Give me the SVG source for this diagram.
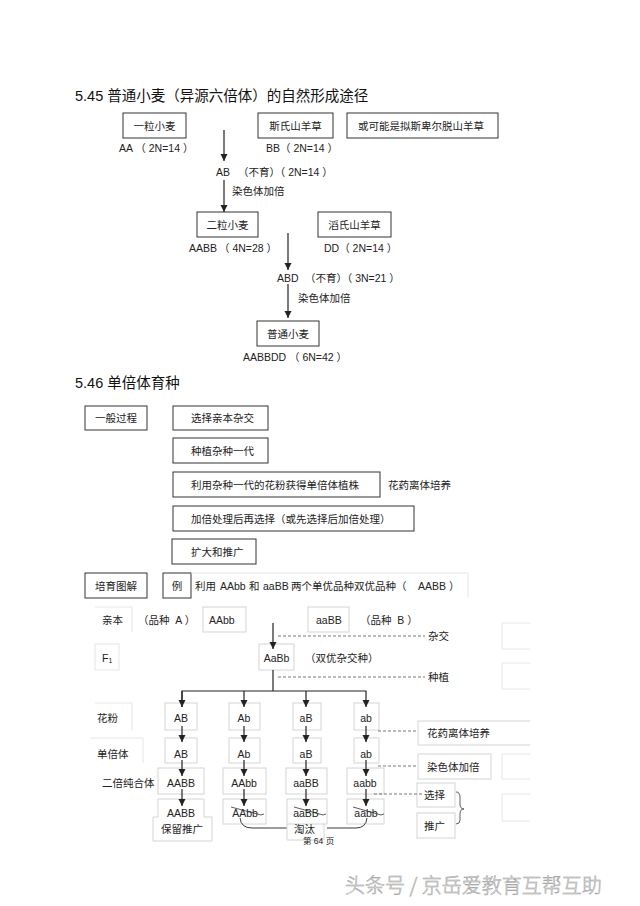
<svg xmlns="http://www.w3.org/2000/svg" width="640" height="906" viewBox="0 0 640 906">
<style>
.t{font-family:"Liberation Sans","Noto Sans CJK SC",sans-serif;font-size:10.5px;fill:#222;dominant-baseline:central;white-space:pre}
.m{text-anchor:middle}
.h{font-family:"Liberation Sans","Noto Sans CJK SC",sans-serif;font-size:14.5px;fill:#111;dominant-baseline:central}
.box{fill:none;stroke:#333;stroke-width:1}
.cell{fill:none;stroke:#d4d4d4;stroke-width:1}
.ghost{fill:none;stroke:#e6e6e6;stroke-width:1}
.ln{stroke:#222;stroke-width:1.2;fill:none}
.dash{stroke:#555;stroke-width:0.8;stroke-dasharray:3 2;fill:none}
.strike{stroke:#333;stroke-width:0.8;fill:none}
</style>
<defs>
<marker id="ah" markerUnits="userSpaceOnUse" markerWidth="8" markerHeight="8" refX="7" refY="3.5" orient="auto">
<path d="M0,0 L7,3.5 L0,7 z" fill="#222"/>
</marker>
</defs>
<rect width="640" height="906" fill="#fff"/>

<!-- Section 5.45 -->
<text class="h" x="75" y="96">5.45 普通小麦（异源六倍体）的自然形成途径</text>

<g id="n-yili"><rect class="box" x="123" y="113" width="63" height="25"/><text class="t m" x="154.5" y="125.5">一粒小麦</text><text class="t" x="119" y="148">AA （ 2N=14 ）</text></g>
<g id="n-sishi"><rect class="box" x="258" y="113" width="75" height="25"/><text class="t m" x="295.5" y="125.5">斯氏山羊草</text><text class="t" x="266" y="148">BB（ 2N=14 ）</text></g>
<g id="n-huo"><rect class="box" x="347" y="113" width="151" height="25"/><text class="t m" x="421" y="125.5">或可能是拟斯卑尔脱山羊草</text></g>
<g id="n-ab"><text class="t" x="216" y="172">AB</text><text class="t" x="238" y="172">（不育）（ 2N=14 ）</text><text class="t" x="232" y="191">染色体加倍</text></g>
<g id="n-erli"><rect class="box" x="197" y="212" width="61" height="25"/><text class="t m" x="227.5" y="224.5">二粒小麦</text><text class="t" x="189" y="248">AABB</text><text class="t" x="219" y="248">（ 4N=28 ）</text></g>
<g id="n-taoshi"><rect class="box" x="318" y="212" width="73" height="25"/><text class="t m" x="354.5" y="224.5">滔氏山羊草</text><text class="t" x="324" y="248">DD（ 2N=14 ）</text></g>
<g id="n-abd"><text class="t" x="277" y="278">ABD</text><text class="t" x="305" y="278">（不育）（ 3N=21 ）</text><text class="t" x="298" y="298">染色体加倍</text></g>
<g id="n-putong"><rect class="box" x="257" y="321" width="62" height="25"/><text class="t m" x="288" y="333.5">普通小麦</text><text class="t" x="243" y="357">AABBDD</text><text class="t" x="289" y="357">（ 6N=42 ）</text></g>

<!-- Section 5.46 -->
<text class="h" x="75" y="383">5.46 单倍体育种</text>
<g id="n-yiban"><rect class="box" x="85" y="406" width="62" height="24"/><text class="t m" x="116" y="418">一般过程</text></g>
<g id="n-s1"><rect class="box" x="173" y="406" width="95" height="24"/><text class="t" x="191" y="418">选择亲本杂交</text></g>
<g id="n-s2"><rect class="box" x="173" y="438" width="95" height="25"/><text class="t" x="191" y="450.5">种植杂种一代</text></g>
<g id="n-s3"><rect class="box" x="173" y="472" width="207" height="25"/><text class="t" x="191" y="484.5">利用杂种一代的花粉获得单倍体植株</text><text class="t" x="388" y="485">花药离体培养</text></g>
<g id="n-s4"><rect class="box" x="173" y="506" width="241" height="25"/><text class="t" x="191" y="518.5">加倍处理后再选择（或先选择后加倍处理）</text></g>
<g id="n-s5"><rect class="box" x="172" y="539" width="84" height="25"/><text class="t" x="191" y="551.5">扩大和推广</text></g>

<!-- Breeding diagram -->
<g id="n-tujie"><rect class="box" x="85" y="573" width="62" height="25"/><text class="t m" x="116" y="585.5">培育图解</text></g>
<g id="n-li"><rect class="box" x="163" y="573" width="28" height="25"/><text class="t m" x="177" y="585.5">例</text></g>
<g id="n-liyong"><path class="ghost" d="M191,573 H468 V598"/><text class="t" y="586"><tspan x="195">利用</tspan><tspan x="220">AAbb</tspan><tspan x="249">和</tspan><tspan x="263">aaBB</tspan><tspan x="291">两个单优品种双优品种（</tspan><tspan x="418">AABB</tspan><tspan x="449">）</tspan></text></g>

<g id="n-qinben"><path class="ghost" d="M95,607 H132 V632"/><text class="t" x="102" y="620">亲本</text><text class="t" x="138" y="620">（品种  A ）</text></g>
<g id="n-aabb-p"><rect class="cell" x="203" y="607" width="43" height="25"/><text class="t" x="209" y="619.5">AAbb</text></g>
<g id="n-aabb-q"><rect class="cell" x="308" y="607" width="41" height="25"/><text class="t" x="316" y="619.5">aaBB</text><text class="t" x="360" y="619.5">（品种  B ）</text></g>
<g id="n-f1"><rect class="ghost" x="95" y="644" width="24" height="26"/><text class="t" x="102" y="658">F<tspan font-size="7" dy="2">1</tspan></text></g>
<g id="n-aabb-f1"><rect class="cell" x="259" y="644" width="35" height="26"/><text class="t m" x="276.5" y="658">AaBb</text><text class="t" x="305" y="658">（双优杂交种）</text></g>
<g id="n-zajiao"><text class="t" x="428" y="636">杂交</text></g>
<g id="n-zhongzhi"><text class="t" x="428" y="677">种植</text></g>
<g id="n-ghost-r"><path class="ghost" d="M530,623 H502 V649 H530"/><path class="ghost" d="M530,663 H502 V689 H530"/><path class="ghost" d="M530,754 H502 V779 H530"/><path class="ghost" d="M530,794 H502 V821 H530"/></g>

<g id="n-row-labels">
<path class="ghost" d="M95,703 H132 V730"/><text class="t" x="97" y="718">花粉</text>
<path class="ghost" d="M90,738 H143 V763"/><text class="t" x="97" y="754">单倍体</text>
<text class="t" x="102" y="783">二倍纯合体</text>
</g>
<g id="n-pollen">
<rect class="cell" x="165" y="703" width="32" height="27"/><text class="t m" x="181" y="718">AB</text>
<rect class="cell" x="229" y="703" width="31" height="27"/><text class="t m" x="244" y="718">Ab</text>
<rect class="cell" x="293" y="703" width="28" height="27"/><text class="t m" x="306" y="718">aB</text>
<rect class="cell" x="354" y="703" width="25" height="27"/><text class="t m" x="366" y="718">ab</text>
</g>
<g id="n-haploid">
<rect class="cell" x="165" y="738" width="32" height="25"/><text class="t m" x="181" y="754">AB</text>
<rect class="cell" x="229" y="738" width="31" height="25"/><text class="t m" x="244" y="754">Ab</text>
<rect class="cell" x="293" y="738" width="28" height="25"/><text class="t m" x="306" y="754">aB</text>
<rect class="cell" x="354" y="738" width="25" height="25"/><text class="t m" x="366" y="754">ab</text>
</g>
<g id="n-diploid">
<rect class="cell" x="158" y="768" width="46" height="26"/><text class="t m" x="181" y="783">AABB</text>
<rect class="cell" x="223" y="768" width="43" height="26"/><text class="t m" x="244" y="783">AAbb</text>
<rect class="cell" x="286" y="768" width="41" height="26"/><text class="t m" x="306" y="783">aaBB</text>
<rect class="cell" x="347" y="768" width="37" height="26"/><text class="t m" x="365" y="783">aabb</text>
</g>
<g id="n-final">
<path class="cell" d="M158,817 V799 H204 V817 H212 V841 H153 V817 Z"/><text class="t m" x="181" y="813">AABB</text><text class="t m" x="182" y="829">保留推广</text>
<rect class="cell" x="223" y="799" width="43" height="25"/><text class="t m" x="245" y="813">AAbb</text><path class="strike" d="M231,807 L261,815 L264,814"/>
<rect class="cell" x="287" y="799" width="40" height="25"/><text class="t m" x="306" y="813">aaBB</text><path class="strike" d="M294,807 L323,815 L326,814"/>
<rect class="cell" x="347" y="799" width="37" height="25"/><text class="t m" x="366" y="813">aabb</text><path class="strike" d="M353,807 L381,815 L384,814"/>
</g>
<g id="n-taotai"><path class="ln" style="stroke-width:0.9" d="M240,818 Q241,828 252,828 H287 M327,828 H356 Q366,828 367,818"/><path class="cell" d="M287,824 V840 H324 V824"/><text class="t" x="294" y="829">淘汰</text><text class="t" x="303" y="841" style="font-size:8.5px">第 64 页</text></g>

<g id="n-huayao"><path class="cell" d="M530,721 H418 V745 H530"/><text class="t" x="427" y="733">花药离体培养</text></g>
<g id="n-jiabei"><rect class="cell" x="418" y="754" width="73" height="25"/><text class="t" x="427" y="766.5">染色体加倍</text></g>
<g id="n-xuanze"><rect class="cell" x="417" y="783" width="38" height="24"/><text class="t" x="424" y="795">选择</text></g>
<g id="n-tuiguang"><rect class="cell" x="417" y="813" width="38" height="25"/><text class="t" x="424" y="826">推广</text></g>
<path class="strike" d="M456,792 Q460,792 460,797 V804 Q460,809 464,809 Q460,809 460,814 V820 Q460,824 456,824"/>

<g id="connectors">
<line class="ln" x1="224" y1="130" x2="224" y2="161" marker-end="url(#ah)"/>
<line class="ln" x1="224" y1="180" x2="224" y2="212" marker-end="url(#ah)"/>
<line class="ln" x1="288" y1="233" x2="288" y2="270" marker-end="url(#ah)"/>
<line class="ln" x1="288" y1="284" x2="288" y2="318" marker-end="url(#ah)"/>
<line class="ln" x1="273" y1="623" x2="273" y2="649" marker-end="url(#ah)"/>
<line class="dash" x1="278" y1="636" x2="425" y2="636"/>
<line class="ln" x1="273" y1="670" x2="273" y2="691"/>
<line class="dash" x1="278" y1="677" x2="425" y2="677"/>
<path class="ln" d="M182,707 V691 H366 V707" marker-end="url(#ah)"/>
<line class="ln" x1="182" y1="691" x2="182" y2="707" marker-end="url(#ah)"/>
<line class="ln" x1="244" y1="691" x2="244" y2="707" marker-end="url(#ah)"/>
<line class="ln" x1="306" y1="691" x2="306" y2="707" marker-end="url(#ah)"/>
<line class="ln" x1="182" y1="726" x2="182" y2="742" marker-end="url(#ah)"/>
<line class="ln" x1="244" y1="726" x2="244" y2="742" marker-end="url(#ah)"/>
<line class="ln" x1="306" y1="726" x2="306" y2="742" marker-end="url(#ah)"/>
<line class="ln" x1="366" y1="726" x2="366" y2="742" marker-end="url(#ah)"/>
<line class="ln" x1="182" y1="760" x2="182" y2="776" marker-end="url(#ah)"/>
<line class="ln" x1="244" y1="760" x2="244" y2="776" marker-end="url(#ah)"/>
<line class="ln" x1="306" y1="760" x2="306" y2="776" marker-end="url(#ah)"/>
<line class="ln" x1="366" y1="760" x2="366" y2="776" marker-end="url(#ah)"/>
<line class="ln" x1="182" y1="789" x2="182" y2="806" marker-end="url(#ah)"/>
<line class="ln" x1="244" y1="789" x2="244" y2="806" marker-end="url(#ah)"/>
<line class="ln" x1="306" y1="789" x2="306" y2="806" marker-end="url(#ah)"/>
<line class="ln" x1="366" y1="789" x2="366" y2="806" marker-end="url(#ah)"/>
<line class="dash" x1="378" y1="731" x2="418" y2="731"/>
<line class="dash" x1="378" y1="766" x2="418" y2="766"/>
<line class="dash" x1="374" y1="794" x2="423" y2="794"/>
</g>

<text x="345" y="884" style="font-family:'Noto Sans CJK SC',sans-serif;font-size:20px;font-weight:300;fill:#f4f4f4;stroke:#9a9a9a;stroke-width:0.5;dominant-baseline:central">头条号 / 京岳爱教育互帮互助</text>
</svg>
